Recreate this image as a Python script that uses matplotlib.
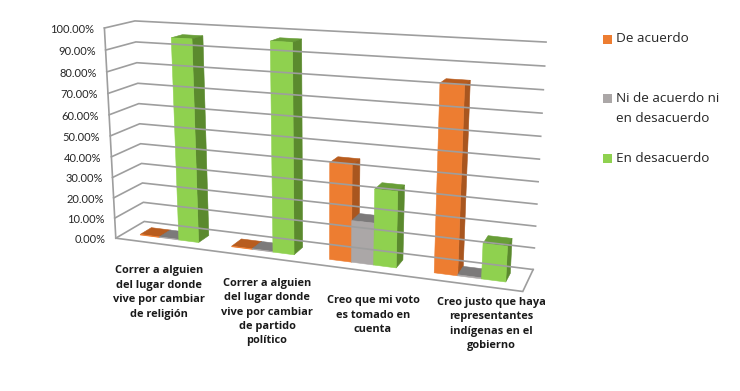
import numpy as np
import matplotlib
matplotlib.use("Agg")
import matplotlib.pyplot as plt
from matplotlib.patches import Polygon, Rectangle

categories = [
    "Correr a alguien\ndel lugar donde\nvive por cambiar\nde religión",
    "Correr a alguien\ndel lugar donde\nvive por cambiar\nde partido\npolítico",
    "Creo que mi voto\nes tomado en\ncuenta",
    "Creo justo que haya\nrepresentantes\nindígenas en el\ngobierno",
]
de_acuerdo = [0.3, 0.3, 45.0, 83.5]
ni_ni = [0.3, 0.3, 19.5, 0.5]
en_desacuerdo = [96.0, 97.0, 35.0, 16.0]
y_ticks = [0, 10, 20, 30, 40, 50, 60, 70, 80, 90, 100]

series_names = ["De acuerdo", "Ni de acuerdo ni\nen desacuerdo", "En desacuerdo"]
front_colors = ["#ED7D31", "#ABA7A7", "#8FD14F"]
side_colors = ["#A9561F", "#6F6D6D", "#5B8A2E"]
top_colors = ["#B85C1E", "#7C7A7A", "#689E37"]
grid_color = "#9E9E9E"

# corners of the 3d box as seen in the picture: (category, depth, value) -> pixel
box_world = [(0, 0, 0), (0, 0, 100), (0, 1, 0), (0, 1, 100), (4, 1, 100), (4, 1, 0), (4, 0, 0)]
box_pixel = [(116, 238.3), (104, 28.3), (144, 221.3), (135.3, 20.7), (546, 42), (533, 270), (523, 291)]


def fit_camera(world, pixel):
    rows = []
    for (u, v, w), (x, y) in zip(world, pixel):
        rows.append([u, v, w, 1, 0, 0, 0, 0, -x * u, -x * v, -x * w, -x])
        rows.append([0, 0, 0, 0, u, v, w, 1, -y * u, -y * v, -y * w, -y])
    return np.linalg.svd(np.array(rows))[2][-1].reshape(3, 4)


camera = fit_camera(box_world, box_pixel)


def project(u, v, w):
    p = camera @ np.array([u, v, w, 1.0])
    return p[0] / p[2], p[1] / p[2]


fig = plt.figure(figsize=(7.4, 3.91), dpi=100)
ax = fig.add_axes([0, 0, 1, 1])
ax.set_xlim(0, 740)
ax.set_ylim(391, 0)
ax.axis("off")


def face(points, color):
    ax.add_patch(Polygon([project(*p) for p in points], closed=True, facecolor=color,
                         edgecolor=color, linewidth=0.4))


def line(points):
    xy = np.array([project(*p) for p in points])
    ax.plot(xy[:, 0], xy[:, 1], color=grid_color, linewidth=1.2, solid_joinstyle="miter")


# walls and floor
for t in y_ticks:
    line([(0, 0, t), (0, 1, t), (4, 1, t)])
    x, y = project(0, 0, t)
    ax.text(x - 10, y + 1.5, f"{t:.2f}%", ha="right", va="center", fontsize=8,
            family="Lato", color="#262626")
line([(0, 0, 100), (0, 0, 0), (4, 0, 0), (4, 1, 0)])

# bars, left to right so the side faces get covered correctly
bar_w = 0.215
gap = 0.1775
depth0, depth1 = 0.3, 0.7
all_series = [de_acuerdo, ni_ni, en_desacuerdo]
for i in range(len(categories)):
    for s, values in enumerate(all_series):
        u0 = i + gap + s * bar_w
        u1 = u0 + bar_w
        h = values[i]
        face([(u0, depth1, h), (u1, depth1, h), (u1, depth0, h), (u0, depth0, h)], top_colors[s])
        face([(u1, depth0, 0), (u1, depth1, 0), (u1, depth1, h), (u1, depth0, h)], side_colors[s])
        face([(u0, depth0, 0), (u1, depth0, 0), (u1, depth0, h), (u0, depth0, h)], front_colors[s])

# category labels
label_x = [159, 267, 373, 491]
label_y = [292.5, 312, 315, 324]
for name, x, y in zip(categories, label_x, label_y):
    ax.text(x, y, name, ha="center", va="center", fontsize=7.9, family="Open Sans",
            fontweight="bold", color="#1a1a1a", linespacing=1.43)

# legend
legend_y = [39, 98.5, 158.5]
legend_text_y = [39, 108.5, 158.5]
for name, c, y, ty in zip(series_names, front_colors, legend_y, legend_text_y):
    ax.add_patch(Rectangle((603, y - 4.5), 9, 9, facecolor=c, edgecolor="none"))
    ax.text(616, ty, name, ha="left", va="center", fontsize=9.7, family="Open Sans",
            color="#262626", linespacing=1.62)

fig.savefig("out.png", dpi=100)
